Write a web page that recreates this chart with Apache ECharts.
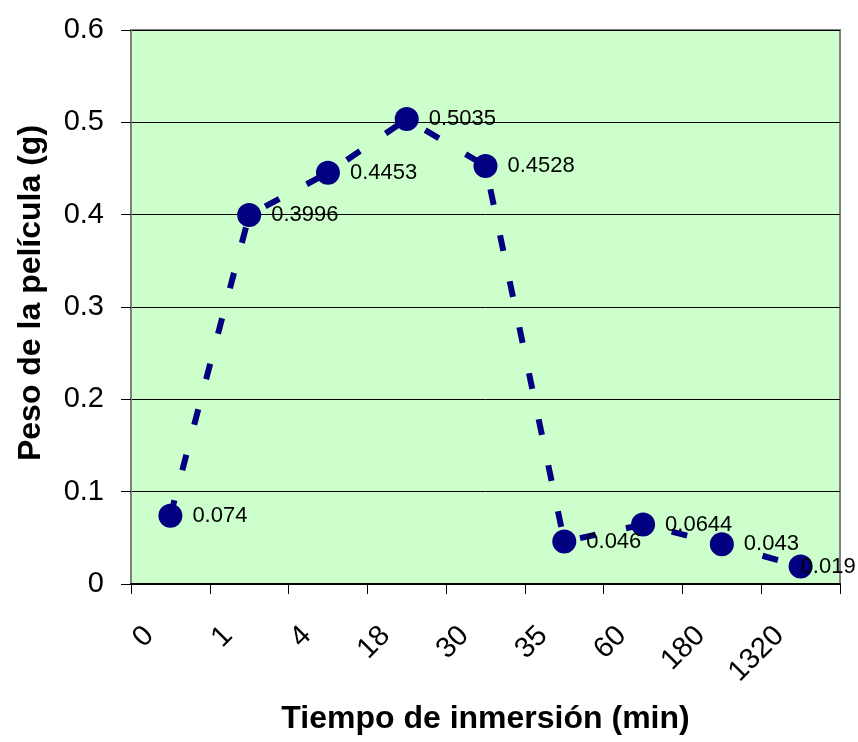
<!DOCTYPE html>
<html>
<head>
<meta charset="utf-8">
<script src="https://cdn.jsdelivr.net/npm/echarts@6/dist/echarts.min.js"></script>
<style>
  html, body { margin: 0; padding: 0; background: #ffffff; }
  #chart { width: 858px; height: 742px; }
</style>
</head>
<body>
<div id="chart"></div>
<script>
const categories = ['0', '1', '4', '18', '30', '35', '60', '180', '1320'];
const pesoValues = [0.074, 0.3996, 0.4453, 0.5035, 0.4528, 0.046, 0.0644, 0.043, 0.019];
const yTicks = { min: 0, max: 0.6, interval: 0.1 };
const xTitle = 'Tiempo de inmersión (min)';
const yTitle = 'Peso de la película (g)';

const FONT = '"Liberation Sans", Arial, sans-serif';
const chart = echarts.init(document.getElementById('chart'), null, { renderer: 'canvas' });

// last label is pulled left (as in the reference) so it stays inside the chart
const seriesData = pesoValues.map((v, i) =>
  i === pesoValues.length - 1 ? { value: v, label: { offset: [-22, 0] } } : v
);

chart.setOption({
  animation: false,
  backgroundColor: '#ffffff',
  grid: {
    left: 131, right: 18, top: 30, bottom: 158,
    show: true,
    backgroundColor: '#CCFFCC',
    borderColor: '#808080',
    borderWidth: 2
  },
  xAxis: {
    type: 'category',
    data: categories,
    boundaryGap: true,
    name: xTitle,
    nameLocation: 'middle',
    nameGap: 119,
    nameTextStyle: { fontFamily: FONT, fontWeight: 'bold', fontSize: 32, color: '#000' },
    axisLine: { lineStyle: { color: '#000', width: 2 } },
    axisTick: { show: true, length: 10, alignWithLabel: false, lineStyle: { color: '#000', width: 1 } },
    axisLabel: {
      interval: 0,
      rotate: 45,
      margin: 26,
      padding: [0, 30, 0, 0],
      fontFamily: FONT,
      fontSize: 29,
      color: '#000'
    },
    splitLine: { show: false }
  },
  yAxis: {
    type: 'value',
    min: yTicks.min,
    max: yTicks.max,
    interval: yTicks.interval,
    name: yTitle,
    nameLocation: 'middle',
    nameRotate: 90,
    nameGap: 84,
    nameTextStyle: { fontFamily: FONT, fontWeight: 'bold', fontSize: 32, color: '#000', padding: [0, 0, 0, 28] },
    axisLine: { show: true, lineStyle: { color: '#808080', width: 2 } },
    axisTick: { show: true, length: 10, lineStyle: { color: '#000', width: 1 } },
    axisLabel: {
      margin: 27,
      fontFamily: FONT,
      fontSize: 29,
      color: '#000',
      formatter: v => String(Math.round(v * 10) / 10)
    },
    splitLine: { show: true, lineStyle: { color: '#000', width: 1 } }
  },
  series: [{
    type: 'line',
    data: seriesData,
    symbol: 'circle',
    symbolSize: 24,
    itemStyle: { color: '#000080' },
    lineStyle: { color: '#000080', width: 6, type: [16, 31] },
    label: {
      show: true,
      position: 'right',
      distance: 10,
      fontFamily: FONT,
      fontSize: 22,
      color: '#000',
      formatter: p => String(p.value)
    },
    z: 3
  }]
});
</script>
</body>
</html>
